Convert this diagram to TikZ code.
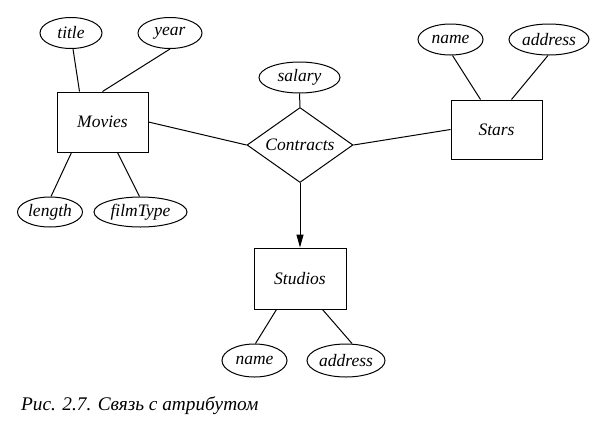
\documentclass[tikz,border=0pt]{standalone}
\usepackage{fontspec}
\setmainfont{Liberation Serif}
\usetikzlibrary{shapes.geometric,arrows.meta,calc}
\begin{document}
\begin{tikzpicture}[x=1pt,y=-1pt,
  lbl/.style={font=\fontsize{17.5}{20}\selectfont\itshape},
  ent/.style={draw,line width=1pt,rectangle,minimum width=91pt,minimum height=60pt,inner sep=0pt,lbl},
  attr/.style={draw,line width=1pt,ellipse,minimum height=31pt,inner sep=0pt,lbl},
  rel/.style={draw,line width=1pt,diamond,aspect=1.41,minimum width=106pt,minimum height=75pt,inner sep=0pt,lbl},
  conn/.style={line width=1pt}]
\useasboundingbox (0,0) rectangle (616,429);
% Movies
\node[ent] (movies) at (102.5,122) {Movies};
\node[attr,minimum width=62pt] (title) at (71,33) {title};
\node[attr,minimum width=64pt] (year) at (170,33) {year};
\node[attr,minimum width=65pt,minimum height=30pt] (length) at (50,212) {length};
\node[attr,minimum width=93pt,minimum height=30pt] (filmtype) at (140.5,212) {filmType};
% Contracts
\node[rel] (contracts) at (300,145) {Contracts};
\node[attr,minimum width=81pt] (salary) at (299.5,77.5) {salary};
% Stars
\node[ent,minimum height=59pt] (stars) at (496.5,129.5) {Stars};
\node[attr,minimum width=65pt] (sname) at (450.5,39.5) {name};
\node[attr,minimum width=80pt] (saddr) at (549,39.5) {address};
% Studios
\node[ent,minimum width=92pt,minimum height=61pt] (studios) at (300,278.5) {Studios};
\node[attr,minimum width=65pt,minimum height=33pt] (tname) at (254.5,360.5) {name};
\node[attr,minimum width=78pt,minimum height=33pt] (taddr) at (346,360.5) {address};
% connectors
\draw[conn] ($(title.south)+(2,0)$) -- ($(movies.north west)+(23,0)$);
\draw[conn] (year.south) -- ($(movies.north west)+(46,0)$);
\draw[conn] ($(movies.south west)+(15,0)$) -- ($(length.north)+(1,0)$);
\draw[conn] ($(movies.south west)+(61,0)$) -- ($(filmtype.north)+(-1,0)$);
\draw[conn] (movies.east) -- (contracts.west);
\draw[conn] (salary.south) -- (contracts.north);
\draw[conn] (contracts.east) -- (stars.west);
\draw[conn] ($(sname.south)+(2,0)$) -- ($(stars.north west)+(30,0)$);
\draw[conn] ($(saddr.south)+(-1,0)$) -- ($(stars.north west)+(61,0)$);
\draw[conn,-{Triangle[length=13pt,width=7pt]}] (contracts.south) -- (studios.north);
\draw[conn] ($(studios.south west)+(23,0)$) -- ($(tname.north)+(1,0)$);
\draw[conn] ($(studios.south west)+(69,0)$) -- ($(taddr.north)+(6,0)$);
% caption
\node[anchor=base west,inner sep=0pt,font=\fontsize{19.3}{22}\selectfont\itshape] (caption) at (21,410) {Рис. 2.7. Связь с атрибутом};
\end{tikzpicture}
\end{document}
